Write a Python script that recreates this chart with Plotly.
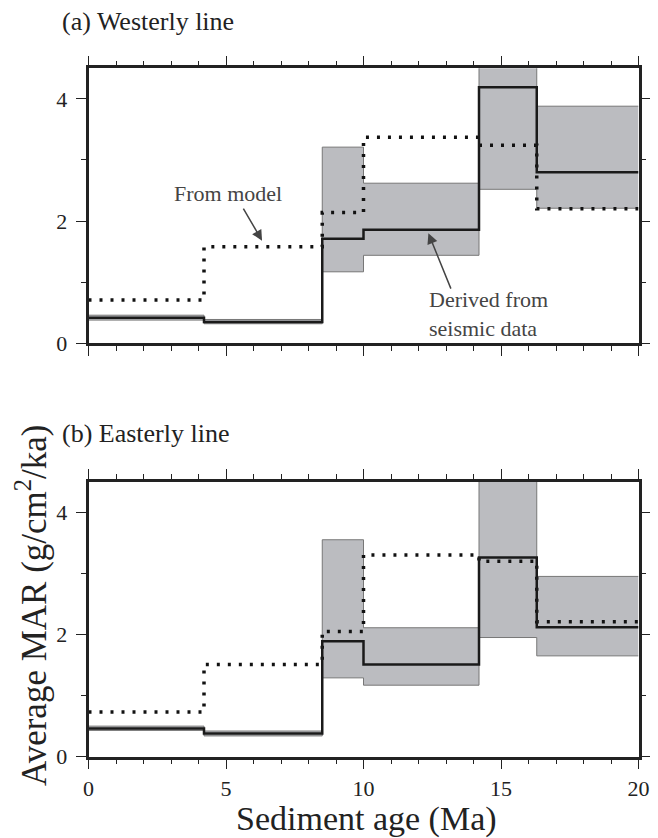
import plotly.graph_objects as go
from plotly.subplots import make_subplots

# step boundaries (Ma)
ages = [0.0, 4.2, 8.5, 10.0, 14.2, 16.3, 20.0]

# (a) Westerly line
west_derived = [0.42, 0.35, 1.71, 1.86, 4.19, 2.80]
west_low = [0.38, 0.32, 1.17, 1.44, 2.52, 2.21]
west_high = [0.46, 0.39, 3.21, 2.62, 4.80, 3.88]
west_model = [0.71, 1.58, 2.14, 3.37, 3.24, 2.20]

# (b) Easterly line
east_derived = [0.46, 0.38, 1.89, 1.51, 3.26, 2.12]
east_low = [0.43, 0.34, 1.29, 1.17, 1.95, 1.65]
east_high = [0.50, 0.42, 3.55, 2.11, 4.80, 2.95]
east_model = [0.73, 1.51, 2.05, 3.30, 3.20, 2.21]

FONT = "Liberation Serif"
INK = "#222222"
BAND = "#bbbcc0"
EDGE = "#777777"

# page is drawn with the browser's 8px body margin, so size the figure to fit
OFF = 8
W, H = 658 - OFF, 838 - OFF


def px(x):
    return (x - OFF) / W


def py(y):
    return 1 - (y - OFF) / H


def steps(vals):
    # repeat last value so the final step reaches the right edge
    return list(vals) + [vals[-1]]


def add_panel(fig, row, low, high, derived, model):
    fig.add_trace(go.Scatter(x=ages, y=steps(low), mode="lines", line_shape="hv",
                             line=dict(color=EDGE, width=1), showlegend=False,
                             hoverinfo="skip"), row=row, col=1)
    fig.add_trace(go.Scatter(x=ages, y=steps(high), mode="lines", line_shape="hv",
                             line=dict(color=EDGE, width=1), fill="tonexty",
                             fillcolor=BAND, showlegend=False, hoverinfo="skip"),
                  row=row, col=1)
    fig.add_trace(go.Scatter(x=ages, y=steps(model), mode="lines", line_shape="hv",
                             line=dict(color="#111111", width=3.5, dash="3px,8px"),
                             showlegend=False), row=row, col=1)
    fig.add_trace(go.Scatter(x=ages, y=steps(derived), mode="lines", line_shape="hv",
                             line=dict(color="#1a1a1a", width=2.5),
                             showlegend=False), row=row, col=1)


fig = make_subplots(rows=2, cols=1)
add_panel(fig, 1, west_low, west_high, west_derived, west_model)
add_panel(fig, 2, east_low, east_high, east_derived, east_model)

x_dom = [px(88.5), px(638.5)]
axis_common = dict(
    showline=True, linecolor=INK, linewidth=2.5, mirror="allticks",
    ticks="outside", tickcolor=INK, tickwidth=1, ticklen=10,
    showgrid=False, zeroline=False,
    tickfont=dict(family=FONT, size=22, color=INK),
)
for i, (y0, y1) in enumerate([(68.3, 343.3), (481.7, 756.7)], start=1):
    fig.update_xaxes(
        row=i, col=1, domain=x_dom, range=[0, 20.0], dtick=5, tick0=0,
        showticklabels=(i == 2), ticklabelstandoff=0,
        minor=dict(dtick=1, ticks="outside", ticklen=5, tickcolor=INK, tickwidth=1),
        **axis_common,
    )
    fig.update_yaxes(
        row=i, col=1, domain=[py(y1), py(y0)], range=[0, 4.5], dtick=2, tick0=0,
        ticklabelstandoff=4,
        minor=dict(dtick=1, ticks="outside", ticklen=5, tickcolor=INK, tickwidth=1),
        **axis_common,
    )

annotations = [
    dict(text="(a) Westerly line", x=px(60), y=py(22), xref="paper", yref="paper",
         xanchor="left", yanchor="middle", showarrow=False,
         font=dict(family=FONT, size=26, color=INK)),
    dict(text="(b) Easterly line", x=px(60), y=py(434), xref="paper", yref="paper",
         xanchor="left", yanchor="middle", showarrow=False,
         font=dict(family=FONT, size=26, color=INK)),
    dict(text="Average MAR (g/cm<sup>2</sup>/ka)", x=px(31), y=py(605),
         xref="paper", yref="paper", textangle=-90, showarrow=False,
         xanchor="center", yanchor="middle",
         font=dict(family=FONT, size=35, color=INK)),
    dict(text="Sediment age (Ma)", x=px(366), y=py(819), xref="paper", yref="paper",
         showarrow=False, xanchor="center", yanchor="middle",
         font=dict(family=FONT, size=34, color=INK)),
    # labels in panel (a)
    dict(text="From model", x=5.07, y=2.45, xref="x", yref="y", showarrow=False,
         font=dict(family=FONT, size=22, color="#444444")),
    dict(text="", x=6.31, y=1.68, ax=5.6, ay=2.23, xref="x", yref="y",
         axref="x", ayref="y", showarrow=True, arrowhead=2, arrowsize=1.4,
         arrowwidth=1.5, arrowcolor="#444444"),
    dict(text="Derived from<br>seismic data", x=12.3, y=0.48, xref="x", yref="y",
         showarrow=False, xanchor="left", align="left",
         font=dict(family=FONT, size=22, color="#444444")),
    dict(text="", x=12.36, y=1.80, ax=13.2, ay=0.87, xref="x", yref="y",
         axref="x", ayref="y", showarrow=True, arrowhead=2, arrowsize=1.4,
         arrowwidth=1.5, arrowcolor="#444444"),
]

fig.update_layout(
    width=W, height=H,
    margin=dict(l=0, r=0, t=0, b=0, autoexpand=False),
    plot_bgcolor="white", paper_bgcolor="white",
    annotations=annotations,
    showlegend=False,
)

fig.write_html("out.html")
